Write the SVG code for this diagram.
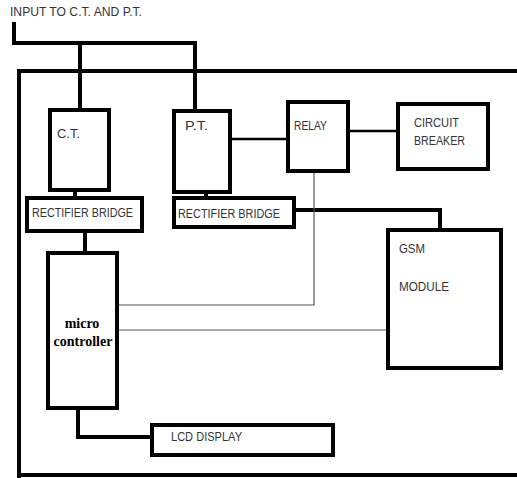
<svg xmlns="http://www.w3.org/2000/svg" width="517" height="478" viewBox="0 0 517 478">
<style>
.box{fill:#fff;stroke:#000;stroke-width:4}
.thick{fill:none;stroke:#000;stroke-width:4}
.mid{fill:none;stroke:#000;stroke-width:2.5}
.thin{fill:none;stroke:#555;stroke-width:1.2}
.t{font-family:"Liberation Sans",Arial,sans-serif;font-size:12.5px;fill:#333}
.b{font-family:"Liberation Serif","Times New Roman",serif;font-size:14px;font-weight:bold;fill:#000;text-anchor:middle}
</style>
<rect width="517" height="478" fill="#fff"/>
<text class="t" x="10" y="16" textLength="132" lengthAdjust="spacingAndGlyphs">INPUT TO C.T. AND P.T.</text>
<g id="connectors">
<polyline class="thick" points="14,22 14,43 195,43 195,112"/>
<polyline class="thick" points="80,43 80,110"/>
<polyline class="thick" points="19,478 19,71 520,71"/>
<polyline class="thick" points="19,475 520,475"/>
<polyline class="thick" points="75,190 75,198"/>
<polyline class="thick" points="206,192 206,198"/>
<polyline class="thick" points="85,230 85,253"/>
<polyline class="mid" points="230,139 288,139"/>
<polyline class="mid" points="348,131 398,131"/>
<polyline class="thick" points="294,210 440,210 440,230"/>
<polyline class="thin" points="314,171 314,305 117,305"/>
<polyline class="thin" points="117,330 387,330"/>
<polyline class="thick" points="78,408 78,437 152,437"/>
</g>
<g id="ct"><rect class="box" x="50" y="110" width="59" height="80"/><text class="t" x="57" y="138" textLength="23" lengthAdjust="spacingAndGlyphs">C.T.</text></g>
<g id="pt"><rect class="box" x="174" y="111" width="56" height="81"/><text class="t" x="185" y="130" textLength="23" lengthAdjust="spacingAndGlyphs">P.T.</text></g>
<g id="relay"><rect class="box" x="288" y="102" width="60" height="69"/><text class="t" x="294" y="130" textLength="33" lengthAdjust="spacingAndGlyphs">RELAY</text></g>
<g id="breaker"><rect class="box" x="398" y="104" width="90" height="65"/><text class="t" x="414" y="127" textLength="45" lengthAdjust="spacingAndGlyphs">CIRCUIT</text><text class="t" x="414" y="145" textLength="51" lengthAdjust="spacingAndGlyphs">BREAKER</text></g>
<g id="rect1"><rect class="box" x="27" y="198" width="115" height="33"/><text class="t" x="32" y="217" textLength="101" lengthAdjust="spacingAndGlyphs">RECTIFIER BRIDGE</text></g>
<g id="rect2"><rect class="box" x="174" y="198" width="120" height="29"/><text class="t" x="178" y="218" textLength="102" lengthAdjust="spacingAndGlyphs">RECTIFIER BRIDGE</text></g>
<g id="gsm"><rect class="box" x="388" y="230" width="113" height="138"/><text class="t" x="399" y="253" textLength="26" lengthAdjust="spacingAndGlyphs">GSM</text><text class="t" x="399" y="291" textLength="50" lengthAdjust="spacingAndGlyphs">MODULE</text></g>
<g id="micro"><rect class="box" x="48" y="253" width="69" height="155"/><text class="b" x="82" y="328">micro</text><text class="b" x="83" y="346">controller</text></g>
<g id="lcd"><rect class="box" x="152" y="425" width="181" height="30"/><text class="t" x="171" y="441" textLength="71" lengthAdjust="spacingAndGlyphs">LCD DISPLAY</text></g>
</svg>
